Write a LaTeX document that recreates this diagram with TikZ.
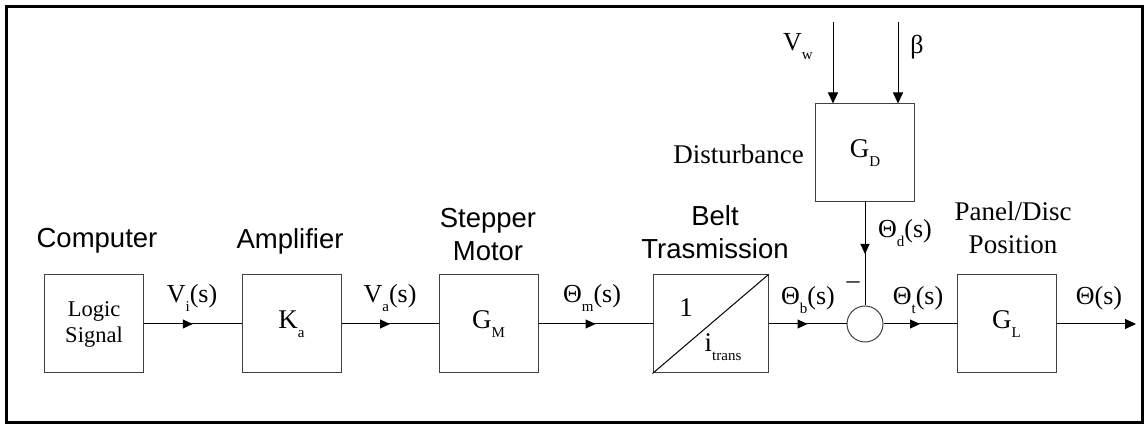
\documentclass[tikz,border=0pt]{standalone}
\usepackage{fontspec}
\setmainfont{Liberation Serif}
\newfontfamily\arialfont{Liberation Sans}
\usetikzlibrary{arrows.meta,decorations.markings}
\newcommand\sbs[1]{\raisebox{-0.35em}{\fontsize{15}{15}\selectfont #1}}
\tikzset{
  blk/.style={draw=black!75, line width=1pt, minimum width=99pt, minimum height=98pt, inner sep=0pt, font=\fontsize{27}{27}\selectfont},
  captxt/.style={font=\arialfont\fontsize{27.5}{33}\selectfont, align=center, inner sep=0pt},
  ttltxt/.style={font=\fontsize{27}{33}\selectfont, align=center, inner sep=0pt},
  sigtxt/.style={font=\fontsize{26}{26}\selectfont, inner sep=0pt},
  conn/.style={line width=1pt, postaction={decorate}, decoration={markings, mark=at position 0.5 with {\arrow{Triangle[length=10pt,width=9pt]}}}},
  endarrow/.style={line width=1pt, -{Triangle[length=11pt,width=10pt]}}
}
\begin{document}
\begin{tikzpicture}[x=1pt,y=-1pt]
\useasboundingbox (0,0) rectangle (1144,427);
\draw[line width=3pt] (6,7) rectangle (1142,423);
% blocks
\node[blk] (logic) at (94,324) {\fontsize{22.5}{26}\selectfont\begin{tabular}{@{}c@{}}Logic\\Signal\end{tabular}};
\node[blk] (ka) at (291.5,324) {K\sbs{a}};
\node[blk] (gm) at (488.5,324) {G\sbs{M}};
\node[blk, minimum width=115pt] (belt) at (710.5,324) {};
\node[circle, draw=black!75, line width=1pt, minimum size=36pt, inner sep=0pt] (sum) at (865,324) {};
\node[blk] (gl) at (1006.5,324) {G\sbs{L}};
\node[blk] (gd) at (865,153) {G\sbs{D}};
% belt content
\draw[line width=1pt] (belt.south west) -- (belt.north east);
\node[sigtxt, font=\fontsize{27}{27}\selectfont] (one) at (686,308) {1};
\node[sigtxt, font=\fontsize{27}{27}\selectfont] (itr) at (723,347) {i\sbs{trans}};
% captions
\node[captxt] (c1) at (97,241) {Computer};
\node[captxt] (c2) at (290,241) {Amplifier};
\node[captxt] (c3) at (488,235) {Stepper\\Motor};
\node[captxt] (c4) at (715,232) {Belt\\Trasmission};
\node[ttltxt, anchor=east] (c5) at (804,154) {Disturbance};
\node[ttltxt] (c6) at (1013,228) {Panel/Disc\\Position};
% input coordinates
\coordinate (vwin) at (833,22);
\coordinate (betain) at (898,22);
\coordinate (out) at (1136,324);
% connectors
\draw[conn] (logic.east) -- (ka.west);
\draw[conn] (ka.east) -- (gm.west);
\draw[conn] (gm.east) -- (belt.west);
\draw[conn] (belt.east) -- (sum.west);
\draw[conn] (sum.east) -- (gl.west);
\draw[conn] (gd.south) -- (sum.north);
\draw[endarrow] (gl.east) -- (out);
\draw[endarrow] (vwin) -- (vwin |- gd.north);
\draw[endarrow] (betain) -- (betain |- gd.north);
% signal labels
\node[sigtxt] (l1) at (192,298) {V\sbs{i}(s)};
\node[sigtxt] (l2) at (390,298) {V\sbs{a}(s)};
\node[sigtxt] (l3) at (592,298) {Θ\sbs{m}(s)};
\node[sigtxt] (l4) at (808,300) {Θ\sbs{b}(s)};
\node[sigtxt] (l5) at (853,285) {–};
\node[sigtxt] (l6) at (905,233) {Θ\sbs{d}(s)};
\node[sigtxt] (l7) at (918,300) {Θ\sbs{t}(s)};
\node[sigtxt] (l8) at (1099,298) {Θ(s)};
\node[sigtxt] (l9) at (798,47) {V\sbs{w}};
\node[sigtxt] (l10) at (917,47) {β};
\end{tikzpicture}
\end{document}
